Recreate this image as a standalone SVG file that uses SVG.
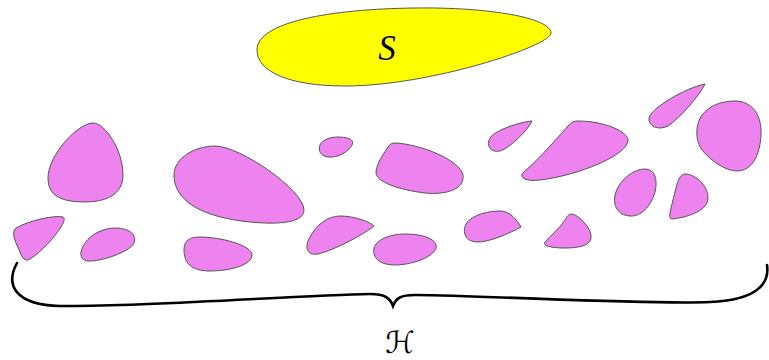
<svg xmlns="http://www.w3.org/2000/svg" width="769" height="360" viewBox="0 0 769 360">
<style>
.blob{fill:#EE82EE;stroke:#555;stroke-width:1}
.s{fill:#FFFF00;stroke:#555;stroke-width:1}
.brace{fill:none;stroke:#000;stroke-width:2.6;stroke-linecap:round}
.lbl{font-family:"Liberation Serif","DejaVu Serif",serif;font-style:italic;fill:#000}
.cal{font-family:"DejaVu Sans","DejaVu Serif",sans-serif;fill:#000}
</style>
<rect width="769" height="360" fill="#fff"/>
<g id="S">
<path class="s" d="M257,50 C257,22 330,9 415,8 C490,7 551,18 551,33 C551,46 430,86 345,86 C290,86 257,72 257,50 Z"/>
<text class="lbl" x="387" y="60" font-size="35" text-anchor="middle">S</text>
</g>
<g id="H-sets">
<path id="hA" class="blob" d="M93,123 C105,123 123,150 123,175 C123,195 105,202 85,202 C60,202 48,195 48,178 C48,155 78,123 93,123 Z"/>
<path id="hB" class="blob" d="M215,146 C240,146 304,190 304,210 C304,225 270,224 250,222 C200,217 174,200 174,175 C174,158 195,146 215,146 Z"/>
<path id="hC" class="blob" d="M16,228 C30,220 55,215 63,217 C70,220 45,250 30,259 C25,262 22,258 20,252 C17,245 10,233 16,228 Z"/>
<path id="hD" class="blob" d="M115,228 C130,228 137,235 134,243 C130,252 100,262 88,261 C78,260 80,250 85,243 C92,233 105,228 115,228 Z"/>
<path id="hE" class="blob" d="M200,237 C220,237 252,245 252,255 C252,265 230,271 210,271 C190,271 184,262 184,250 C184,240 190,237 200,237 Z"/>
<path id="hF" class="blob" d="M338,137 C348,137 355,140 352,145 C348,152 338,158 328,157 C320,156 318,150 320,145 C322,140 330,137 338,137 Z"/>
<path id="hG" class="blob" d="M395,143 C420,144 460,160 463,175 C465,190 445,195 425,193 C400,190 375,182 376,172 C377,162 385,152 388,147 C390,144 392,143 395,143 Z"/>
<path id="hH" class="blob" d="M340,216 C355,216 370,222 374,226 C366,233 335,250 318,254 C305,256 305,245 310,237 C316,225 328,216 340,216 Z"/>
<path id="hI" class="blob" d="M405,234 C425,234 438,240 436,248 C433,258 410,265 395,265 C380,265 372,258 374,248 C376,240 390,234 405,234 Z"/>
<path id="hJ" class="blob" d="M500,211 C510,211 517,220 521,227 C510,233 490,242 478,242 C465,242 462,232 466,224 C472,214 490,211 500,211 Z"/>
<path id="hK" class="blob" d="M532,121 C528,130 510,148 500,151 C490,153 486,145 490,138 C495,130 520,122 532,121 Z"/>
<path id="hL" class="blob" d="M578,121 C605,121 628,132 628,140 C628,155 580,175 540,180 C525,182 518,177 524,172 C540,158 560,135 568,126 C571,122 574,121 578,121 Z"/>
<path id="hM" class="blob" d="M705,84 C700,95 680,118 668,126 C658,131 648,126 649,118 C651,108 685,88 705,84 Z"/>
<path id="hN" class="blob" d="M735,101 C752,101 762,115 761,135 C760,155 752,171 737,171 C725,171 710,160 702,150 C695,140 695,125 702,115 C710,105 722,101 735,101 Z"/>
<path id="hO" class="blob" d="M645,169 C655,169 658,180 655,192 C651,207 640,217 630,216 C617,215 613,205 615,195 C618,182 632,169 645,169 Z"/>
<path id="hP" class="blob" d="M685,174 C695,174 708,185 708,198 C708,210 690,217 672,219 C668,219 670,212 673,200 C676,188 678,174 685,174 Z"/>
<path id="hQ" class="blob" d="M571,214 C578,214 592,228 591,238 C590,246 578,248 565,248 C552,248 542,246 545,242 C550,236 560,228 565,220 C567,216 569,214 571,214 Z"/>
</g>
<g id="brace">
<path class="brace" d="M17,263 C5,285 15,305 60,306 C150,307 300,295 370,294 C385,294 390,298 393,306 C396,298 401,295 415,295 C500,296 650,305 710,302 C755,300 770,285 767,265"/>
<text class="cal" x="400" y="353" font-size="30" text-anchor="middle">ℋ</text>
</g>
</svg>
